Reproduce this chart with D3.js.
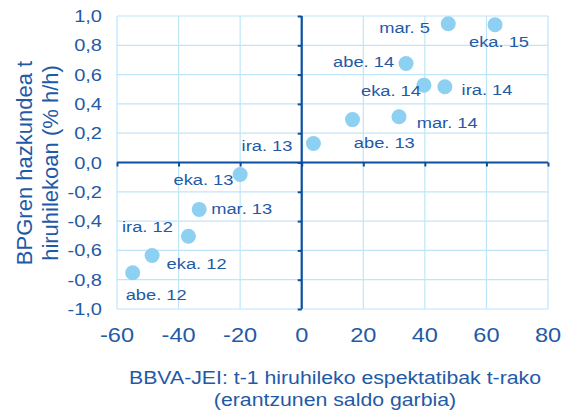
<!DOCTYPE html>
<html>
<head>
<meta charset="utf-8">
<script src="https://cdn.jsdelivr.net/npm/d3@7"></script>
<style>
  html, body { margin: 0; padding: 0; background: #ffffff; }
  svg { display: block; }
  text { font-family: "Liberation Sans", Arial, sans-serif; }
</style>
</head>
<body>
<svg id="chart" width="571" height="414"></svg>
<script>
// ---- data ----
const labels = ["eka. 12", "ira. 12", "abe. 12", "mar. 13", "eka. 13", "ira. 13", "abe. 13",
                "mar. 14", "eka. 14", "ira. 14", "abe. 14", "mar. 5", "eka. 15"];
const xValues = [-48.6, -36.8, -54.9, -33.3, -20.0, 3.8, 16.5, 31.6, 39.7, 46.5, 33.9, 47.6, 62.8];
const yValues = [-0.635, -0.503, -0.753, -0.32, -0.082, 0.13, 0.293, 0.312, 0.528, 0.517, 0.676, 0.947, 0.94];
const xTicks = [-60, -40, -20, 0, 20, 40, 60, 80];
const yTicks = [-1.0, -0.8, -0.6, -0.4, -0.2, 0.0, 0.2, 0.4, 0.6, 0.8, 1.0];
const xTitle = ["BBVA-JEI: t-1 hiruhileko espektatibak t-rako", "(erantzunen saldo garbia)"];
const yTitle = ["BPGren hazkundea t", "hiruhilekoan (% h/h)"];

// label placement relative to point (pixels): [dx, dy, anchor]
const labelPlacement = [
  [14.5, 13, "start"], [-15.6, -4, "end"], [-7, 27, "start"], [12, 5, "start"],
  [-6.7, 10, "end"], [-21, 8, "end"], [1.3, 28.5, "start"], [17.7, 11.7, "start"],
  [-3, 11.3, "end"], [16.7, 8.7, "start"], [-12, 4, "end"], [-18.3, 9.7, "end"],
  [-26, 22.4, "start"]
];

// ---- styles ----
const textColor = "#1f5aa6";
const axisColor = "#0d4ea0";
const gridColor = "#bfe6f8";
const pointColor = "#8dd0f1";
const sx = 1.18;

const svg = d3.select("#chart");
const x = d3.scaleLinear().domain([-60, 80]).range([117, 548]);
const y = d3.scaleLinear().domain([-1, 1]).range([309, 16]);

// grid
const grid = svg.append("g");
grid.selectAll("line.v").data(xTicks).join("line")
  .attr("x1", d => x(d)).attr("x2", d => x(d))
  .attr("y1", y(1)).attr("y2", y(-1))
  .attr("stroke", gridColor).attr("stroke-width", 1.2);
grid.selectAll("line.h").data(yTicks).join("line")
  .attr("class", "h")
  .attr("x1", x(-60)).attr("x2", x(80))
  .attr("y1", d => y(d)).attr("y2", d => y(d))
  .attr("stroke", gridColor).attr("stroke-width", 1.2);

// axes through zero
const xAxis = d3.axisBottom(x).tickValues(xTicks).tickSize(4).tickFormat("");
const yAxis = d3.axisLeft(y).tickValues(yTicks).tickSize(4).tickFormat("");
const gx = svg.append("g").attr("transform", `translate(0,${y(0)})`).call(xAxis);
const gy = svg.append("g").attr("transform", `translate(${x(0)},0)`).call(yAxis);
[gx, gy].forEach(g => {
  g.select(".domain").attr("stroke", axisColor).attr("stroke-width", 2.2);
  g.selectAll(".tick line").attr("stroke", axisColor).attr("stroke-width", 2);
});
gx.select(".domain").attr("d", `M${x(-60)},0H${x(80)}`);
gy.select(".domain").attr("d", `M0,${y(1)}V${y(-1)}`);

// tick labels
const fmtY = d => d3.format(".1f")(d).replace(".", ",").replace("−", "-");
svg.append("g").selectAll("text").data(yTicks).join("text")
  .attr("transform", d => `translate(102,${y(d) + 6}) scale(${sx},1)`)
  .attr("text-anchor", "end").attr("font-size", 17).attr("fill", textColor)
  .text(fmtY);
svg.append("g").selectAll("text").data(xTicks).join("text")
  .attr("transform", d => `translate(${x(d)},342) scale(${sx},1)`)
  .attr("text-anchor", "middle").attr("font-size", 20).attr("fill", textColor)
  .text(d => String(d));

// points
const pts = labels.map((l, i) => ({ label: l, x: xValues[i], y: yValues[i], p: labelPlacement[i] }));
svg.append("g").selectAll("circle").data(pts).join("circle")
  .attr("cx", d => x(d.x)).attr("cy", d => y(d.y)).attr("r", 7.5)
  .attr("fill", pointColor);

// point labels
svg.append("g").selectAll("text").data(pts).join("text")
  .attr("transform", d => `translate(${x(d.x) + d.p[0]},${y(d.y) + d.p[1]}) scale(${sx},1)`)
  .attr("text-anchor", d => d.p[2]).attr("font-size", 15.5).attr("fill", textColor)
  .text(d => d.label);

// x title
svg.append("g").selectAll("text").data(xTitle).join("text")
  .attr("transform", (d, i) => `translate(335,${384 + i * 22}) scale(1.15,1)`)
  .attr("text-anchor", "middle").attr("font-size", 18.5).attr("fill", textColor)
  .text(d => d);

// y title
svg.append("g").selectAll("text").data(yTitle).join("text")
  .attr("transform", (d, i) => `translate(${31.5 + i * 26.5},163) rotate(-90)`)
  .attr("text-anchor", "middle").attr("font-size", 22).attr("fill", textColor)
  .text(d => d);
</script>
</body>
</html>
